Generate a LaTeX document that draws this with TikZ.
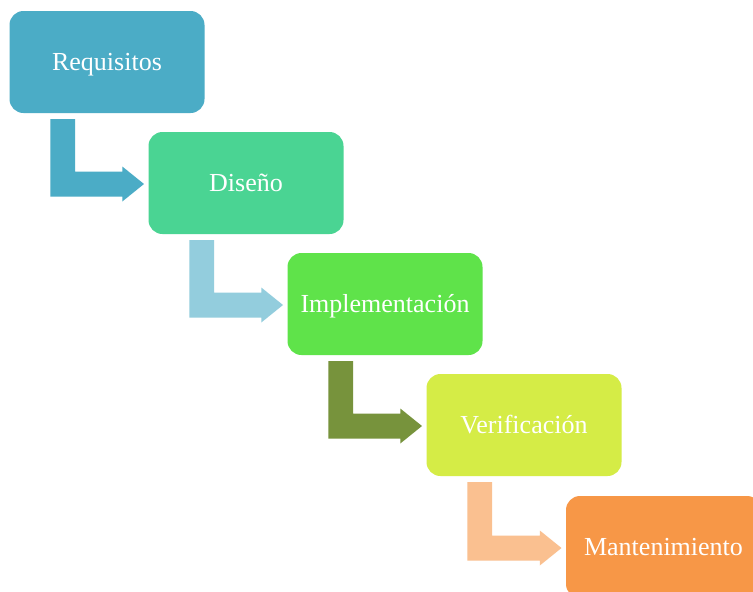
\documentclass[tikz,border=0pt]{standalone}
\usepackage{fontspec}
\setmainfont{Liberation Serif}
\usetikzlibrary{calc}

\definecolor{cReq}{HTML}{4BACC6}
\definecolor{cDis}{HTML}{4AD493}
\definecolor{cImp}{HTML}{5FE34A}
\definecolor{cVer}{HTML}{D5EC46}
\definecolor{cMan}{HTML}{F79747}
\definecolor{aOne}{HTML}{4BACC6}
\definecolor{aTwo}{HTML}{93CDDD}
\definecolor{aThree}{HTML}{77933C}
\definecolor{aFour}{HTML}{FAC090}

\tikzset{
  phase/.style={rectangle, rounded corners=14pt, minimum width=195pt,
    minimum height=102pt, inner sep=0pt, text=white,
    text height=22pt, text depth=5pt,
    font=\fontsize{26}{30}\selectfont},
}

% bent block arrow from the lower left of one phase to the west side of the next
\newcommand\stepconn[3]{%
  \coordinate (s) at ($(#1.south west)+(41,6)$);
  \coordinate (t) at ($(#2.west)+(-4.3,1)$);
  \fill[#3] (s) -- ++(24.7,0) |- ($(t)+(-21.7,-12.5)$) -- ++(0,-5)
    -- (t) -- ++(-21.7,17.5) -- ++(0,-5) -| (s) -- cycle;
}

\begin{document}
\begin{tikzpicture}[x=1pt,y=-1pt]
  \clip (0,0) rectangle (753,592);
  \fill[white] (0,0) rectangle (753,592);

  \node[phase, fill=cReq] (req) at (107,62)    {Requisitos};
  \node[phase, fill=cDis] (dis) at (246,183)   {Diseño};
  \node[phase, fill=cImp] (imp) at (385,304)   {Implementación};
  \node[phase, fill=cVer] (ver) at (524,425)   {Verificación};
  \node[phase, fill=cMan] (man) at (663.5,547) {Mantenimiento};

  \stepconn{req}{dis}{aOne}
  \stepconn{dis}{imp}{aTwo}
  \stepconn{imp}{ver}{aThree}
  \stepconn{ver}{man}{aFour}
\end{tikzpicture}
\end{document}
